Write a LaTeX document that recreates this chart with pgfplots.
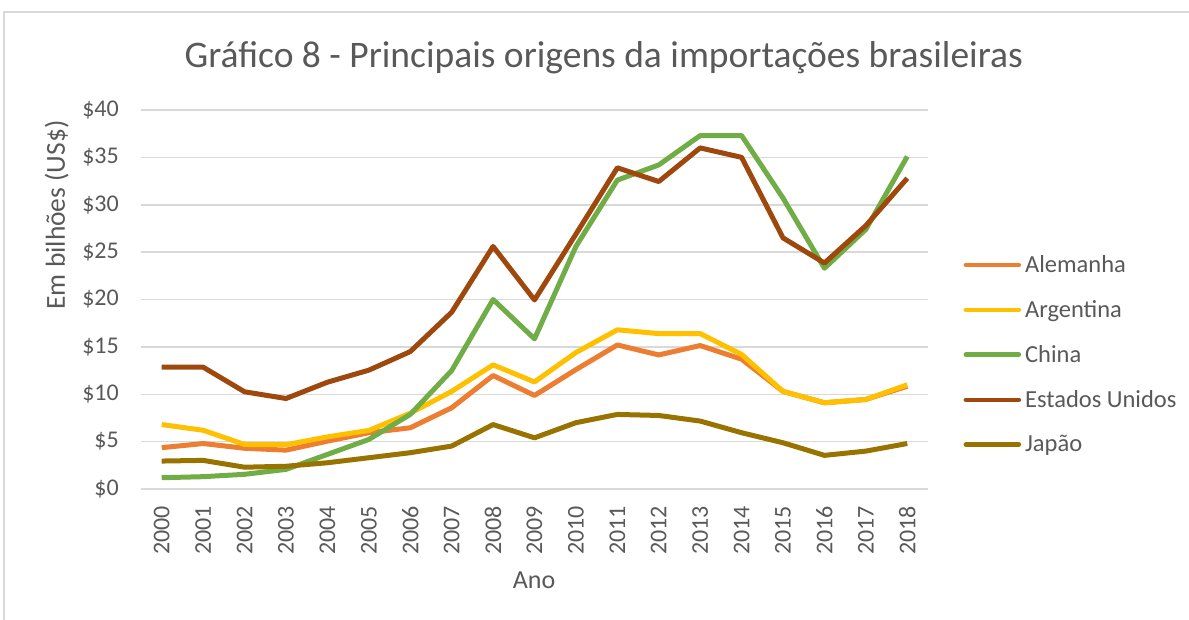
\documentclass[border=0pt]{standalone}
\usepackage{pgfplots}
\pgfplotsset{compat=1.18}
\usepackage{fontspec}
\setmainfont{Carlito}
\definecolor{txt}{HTML}{595959}
\definecolor{grd}{HTML}{D9D9D9}
\definecolor{cAle}{HTML}{ED7D31}
\definecolor{cArg}{HTML}{FFC000}
\definecolor{cChi}{HTML}{70AD47}
\definecolor{cEUA}{HTML}{9E480E}
\definecolor{cJap}{HTML}{997300}
\begin{document}
\begin{tikzpicture}[x=1pt,y=1pt]
\useasboundingbox (0,0) rectangle (1189,619);
\draw[grd, line width=1.5pt] (4,-5) -- (4,607) -- (1195,607);
\begin{axis}[
  at={(141pt,130pt)}, anchor=south west,
  scale only axis, width=787pt, height=379pt,
  xmin=-0.5, xmax=18.5, ymin=0, ymax=40,
  axis line style={draw=none},
  tick style={draw=none},
  ymajorgrids, grid style={grd, line width=1.5pt},
  xtick={0,...,18},
  xticklabels={2000,2001,2002,2003,2004,2005,2006,2007,2008,2009,2010,2011,2012,2013,2014,2015,2016,2017,2018},
  ytick={0,5,...,40},
  yticklabels={\$0,\$5,\$10,\$15,\$20,\$25,\$30,\$35,\$40},
  major tick length=0pt,
  x tick label style={rotate=90, anchor=east, font=\fontsize{24}{28}\selectfont, text=txt, inner ysep=0pt, inner xsep=17pt},
  y tick label style={font=\fontsize{24}{28}\selectfont, text=txt, anchor=east, inner ysep=0pt, inner xsep=22pt},
  /pgf/number format/assume math mode=true,
  title={Gráfico 8 - Principais origens da importações brasileiras},
  title style={at={(0.588,1.121)}, anchor=center, font=\fontsize{37.5}{44}\selectfont, text=txt},
  xlabel={Ano},
  xlabel style={at={(0.4994,-0.240)}, anchor=center, font=\fontsize{26}{30}\selectfont, text=txt},
  ylabel={Em bilhões (US\$)},
  ylabel style={at={(-0.107,0.723)}, anchor=center, rotate=0, font=\fontsize{27.5}{32}\selectfont, text=txt},
  legend style={at={(1.045,0.355)}, anchor=west, draw=none, fill=none,
    font=\fontsize{24.5}{29}\selectfont, text=txt, row sep=22.5pt, inner sep=0pt,
    /tikz/every odd column/.append style={column sep=2pt}},
  legend cell align=left,
  legend image code/.code={\draw[#1, line width=4.5pt, line cap=round] (0pt,0pt) -- (53pt,0pt);},
  every axis plot/.append style={line width=5pt, line join=round},
]
\addplot[cAle] coordinates {(0,4.36)(1,4.8)(2,4.3)(3,4.1)(4,5.05)(5,5.94)(6,6.46)(7,8.57)(8,11.98)(9,9.87)(10,12.6)(11,15.2)(12,14.15)(13,15.14)(14,13.7)(15,10.3)(16,9.1)(17,9.45)(18,10.85)};
\addlegendentry{Alemanha}
\addplot[cArg] coordinates {(0,6.8)(1,6.2)(2,4.7)(3,4.67)(4,5.5)(5,6.18)(6,8.0)(7,10.3)(8,13.1)(9,11.3)(10,14.4)(11,16.8)(12,16.4)(13,16.4)(14,14.2)(15,10.3)(16,9.1)(17,9.45)(18,11.0)};
\addlegendentry{Argentina}
\addplot[cChi] coordinates {(0,1.19)(1,1.3)(2,1.55)(3,2.07)(4,3.65)(5,5.23)(6,7.87)(7,12.5)(8,20.0)(9,15.85)(10,25.6)(11,32.6)(12,34.2)(13,37.3)(14,37.3)(15,30.7)(16,23.3)(17,27.4)(18,35.1)};
\addlegendentry{China}
\addplot[cEUA] coordinates {(0,12.86)(1,12.86)(2,10.26)(3,9.55)(4,11.27)(5,12.54)(6,14.5)(7,18.65)(8,25.6)(9,19.95)(10,26.9)(11,33.9)(12,32.45)(13,36.0)(14,35.0)(15,26.5)(16,23.85)(17,27.8)(18,32.8)};
\addlegendentry{Estados Unidos}
\addplot[cJap] coordinates {(0,2.95)(1,3.02)(2,2.3)(3,2.4)(4,2.77)(5,3.3)(6,3.83)(7,4.53)(8,6.8)(9,5.4)(10,7.0)(11,7.87)(12,7.76)(13,7.17)(14,5.94)(15,4.88)(16,3.55)(17,4.0)(18,4.8)};
\addlegendentry{Japão}
\end{axis}
\end{tikzpicture}
\end{document}
